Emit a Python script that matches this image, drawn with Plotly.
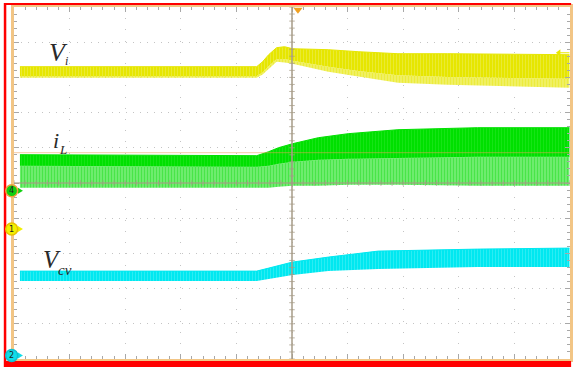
import plotly.graph_objects as go

# ---- scope screen in divisions: x -5..5 (time), y -5..5 (vertical) ----
# Vi (CH1) envelope
vi_t = [-4.893, -0.635, -0.528, -0.420, -0.277, -0.134, 0.009, 0.653, 1.190, 1.905, 2.800, 4.99]
vi_hi = [3.304, 3.304, 3.446, 3.645, 3.844, 3.872, 3.815, 3.787, 3.730, 3.673, 3.673, 3.645]
vi_core = [3.040, 3.040, 3.140, 3.320, 3.520, 3.520, 3.470, 3.300, 3.180, 3.060, 3.010, 2.960]
vi_lo = [2.991, 2.991, 3.080, 3.250, 3.446, 3.420, 3.389, 3.162, 3.020, 2.849, 2.793, 2.707]

# iL (CH4) envelope: peak, dense-ripple floor, spike floor
il_t = [-4.893, -0.635, -0.420, -0.242, 0.009, 0.474, 1.011, 1.905, 3.336, 4.99]
il_hi = [0.804, 0.776, 0.889, 1.003, 1.116, 1.287, 1.401, 1.514, 1.571, 1.571]
il_mid = [0.491, 0.463, 0.491, 0.548, 0.605, 0.662, 0.690, 0.719, 0.747, 0.747]
il_lo = [-0.134, -0.134, -0.134, -0.105, -0.077, -0.077, -0.048, -0.048, -0.077, -0.077]

# Vcv (CH2) envelope
vc_t = [-4.893, -0.635, -0.420, 0.009, 0.653, 1.547, 3.336, 4.99]
vc_hi = [-2.503, -2.503, -2.418, -2.247, -2.105, -1.935, -1.878, -1.849]
vc_lo = [-2.787, -2.787, -2.730, -2.616, -2.503, -2.446, -2.389, -2.389]

# channel ground markers (label, level, fill, ring)
ch_names = ["4", "1", "2"]
ch_levels = [-0.219, -1.307, -4.898]
ch_fill = ["#10d010", "#f2f000", "#10dde8"]
ch_ring = ["#f0a040", "#e8c000", "#10c0d0"]

trig_pos = 0.107
trig_level = 3.70
cursor_level = 0.861

fig = go.Figure()


def band(t, lo, hi, bg, fg, solidity, size=3, edge=1):
    fig.add_trace(go.Scatter(x=t, y=lo, mode="lines", line=dict(width=0, color=bg),
                             hoverinfo="skip", showlegend=False))
    fig.add_trace(go.Scatter(x=t, y=hi, mode="lines", line=dict(width=edge, color=bg),
                             fill="tonexty", fillcolor=bg,
                             fillpattern=dict(shape="|", bgcolor=bg, fgcolor=fg,
                                              size=size, solidity=solidity),
                             hoverinfo="skip", showlegend=False))


band(vi_t, vi_lo, vi_core, "#f2f27a", "#e6e600", 0.6, edge=0)
band(vi_t, vi_core, vi_hi, "#e6e600", "#f0f070", 0.3)
band(il_t, il_lo, il_mid, "#80ee80", "#10dc10", 0.55)
band(il_t, il_mid, il_hi, "#00e000", "#30ea30", 0.3)
band(vc_t, vc_lo, vc_hi, "#00e8f0", "#60f2f6", 0.3)

# trigger position and level markers
fig.add_trace(go.Scatter(x=[trig_pos], y=[4.92], mode="markers", cliponaxis=False,
                         marker=dict(symbol="triangle-down", size=8, color="#f0a020"),
                         hoverinfo="skip", showlegend=False))
fig.add_trace(go.Scatter(x=[4.82, 4.99], y=[trig_level, trig_level], mode="lines",
                         line=dict(color="#e8e800", width=1),
                         hoverinfo="skip", showlegend=False))
fig.add_trace(go.Scatter(x=[4.80], y=[trig_level], mode="markers",
                         marker=dict(symbol="triangle-left", size=6, color="#e8e800"),
                         hoverinfo="skip", showlegend=False))

shapes = []
# cursor line
shapes.append(dict(type="line", xref="x", yref="y", x0=-5, x1=5, y0=cursor_level,
                   y1=cursor_level, line=dict(color="rgba(235,160,90,0.55)", width=1),
                   layer="above"))
# centre crosshair with graduation ticks
cross = "rgba(165,155,135,0.75)"
shapes.append(dict(type="line", xref="x", yref="y", x0=0, x1=0, y0=-5, y1=5,
                   line=dict(color=cross, width=2), layer="above"))
shapes.append(dict(type="line", xref="x", yref="y", x0=-5, x1=5, y0=0, y1=0,
                   line=dict(color=cross, width=1.5), layer="above"))
for k in range(-25, 26):
    v = k * 0.2
    shapes.append(dict(type="line", xref="x", yref="y", x0=-0.05, x1=0.05, y0=v, y1=v,
                       line=dict(color=cross, width=1), layer="above"))
    shapes.append(dict(type="line", xref="x", yref="y", x0=v, x1=v, y0=-0.08, y1=0.08,
                       line=dict(color=cross, width=1), layer="above"))

# red outer border (left, top, bottom)
shapes.append(dict(type="line", xref="paper", yref="paper", x0=-0.0161, x1=-0.0161,
                   y0=1.0114, y1=-0.0227, line=dict(color="#ff0000", width=2.5)))
shapes.append(dict(type="line", xref="paper", yref="paper", x0=-0.0179, x1=1.002,
                   y0=1.0085, y1=1.0085, line=dict(color="#ff0000", width=1.8)))
shapes.append(dict(type="rect", xref="paper", yref="paper", x0=-0.0179, x1=1.002,
                   y0=-0.0057, y1=-0.025, line=dict(width=0), fillcolor="#ff0000"))

# channel ground markers on the left edge (paper coordinates, outside the grid)
px_w, px_h = 559.0, 352.0
cx = (11.7 - 14) / px_w
rx, ry = 6 / px_w, 6 / px_h
for name, lvl, fc, rc in zip(ch_names, ch_levels, ch_fill, ch_ring):
    cy = (lvl + 5) / 10
    shapes.append(dict(type="line", xref="paper", yref="paper", x0=cx, x1=(19 - 14) / px_w,
                       y0=cy, y1=cy, line=dict(color=fc, width=1), layer="above"))
    shapes.append(dict(type="path", xref="paper", yref="paper",
                       path="M {a},{b} L {c},{d} L {a},{e} Z".format(
                           a=(18 - 14) / px_w, b=cy + 3 / px_h, c=(23 - 14) / px_w,
                           d=cy, e=cy - 3 / px_h),
                       fillcolor=fc, line=dict(width=0), layer="above"))
    shapes.append(dict(type="circle", xref="paper", yref="paper",
                       x0=cx - rx, x1=cx + rx, y0=cy - ry, y1=cy + ry,
                       fillcolor=fc, line=dict(color=rc, width=1.5), layer="above"))
    fig.add_annotation(x=cx, y=cy, xref="paper", yref="paper", text=name,
                       showarrow=False, xanchor="center", yanchor="middle",
                       font=dict(family="DejaVu Sans", size=8, color="#222"))

fig.update_layout(shapes=shapes)

# trace labels
lab_font = "Liberation Serif"
lab_col = "#2a2a2a"
labels = [
    ("V", -4.40, 3.70, 26),
    ("i", -4.12, 3.48, 12),
    ("i", -4.34, 1.20, 22),
    ("L", -4.22, 0.96, 13),
    ("V", -4.51, -2.17, 25),
    ("cv", -4.25, -2.46, 15),
]
for txt, x, y, s in labels:
    fig.add_annotation(x=x, y=y, xref="x", yref="y", text="<i>" + txt + "</i>",
                       showarrow=False, xanchor="left", yanchor="middle",
                       font=dict(family=lab_font, size=s, color=lab_col))

axis_common = dict(
    range=[-5, 5], dtick=1, tick0=0, showticklabels=False,
    showgrid=True, gridcolor="#c4c4c4", gridwidth=1,
    zeroline=False, showline=True, linecolor="#f2c585", linewidth=3,
    mirror="allticks", ticks="inside", ticklen=5, tickcolor="#a8a8a8", tickwidth=1,
    minor=dict(dtick=0.2, ticks="inside", ticklen=3, tickcolor="#a8a8a8", showgrid=False),
    fixedrange=True,
)
fig.update_xaxes(**axis_common, griddash="1px,10.2px")
fig.update_yaxes(**axis_common, griddash="1px,6px")

fig.update_layout(
    width=574, height=367,
    margin=dict(l=14, r=1, t=7, b=8),
    paper_bgcolor="white", plot_bgcolor="white",
    showlegend=False,
)

fig.write_html("out.html")
